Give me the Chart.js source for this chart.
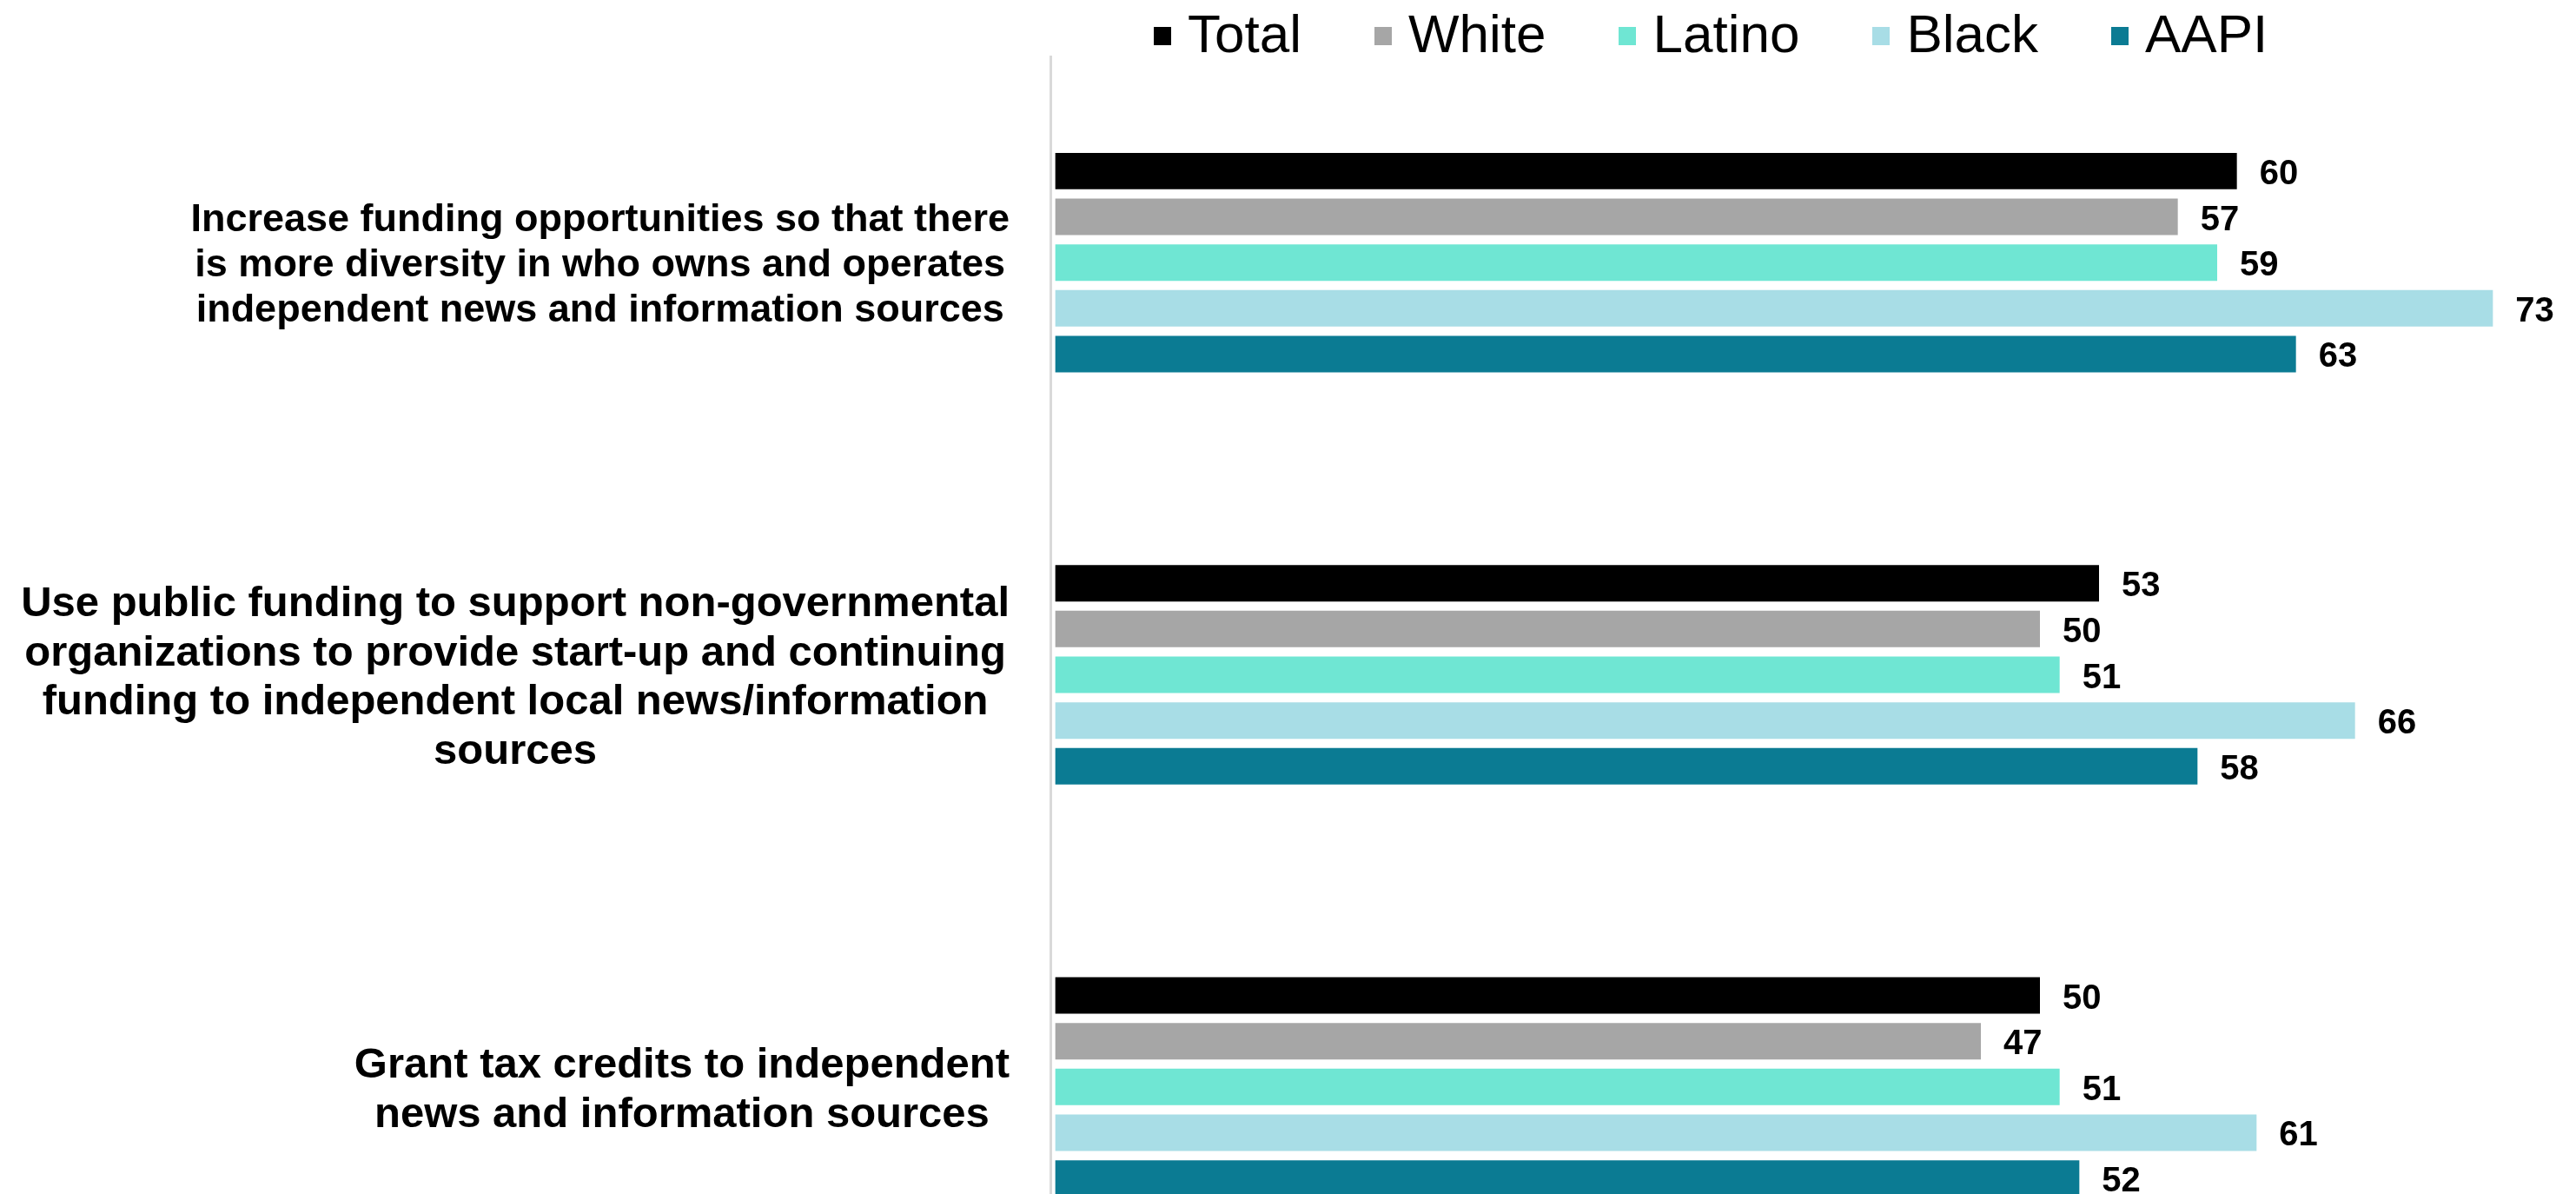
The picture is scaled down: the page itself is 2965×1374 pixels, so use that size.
<!DOCTYPE html>
<html>
<head>
<meta charset="utf-8">
<script src="https://cdn.jsdelivr.net/npm/chart.js@4.4.1/dist/chart.umd.min.js"></script>
<style>
  html, body { margin: 0; padding: 0; background: #fff; overflow: hidden; }
  #wrap { position: relative; width: 2965px; height: 1374px; overflow: hidden; }
  #chart { position: absolute; left: 0; top: 0; }
  #legend {
    position: absolute; left: 1328px; top: 8px;
    display: flex; gap: 84px;
    font: 62px/62px "Liberation Sans", Arial, sans-serif; color: #000;
    white-space: nowrap;
  }
  #legend .item { display: inline-block; }
  #legend .box { display: inline-block; width: 20px; height: 21px; margin-right: 19px; vertical-align: 8px; }
</style>
</head>
<body>
<div id="wrap">
  <canvas id="chart" width="2965" height="1488"></canvas>
  <div id="legend"></div>
</div>
<script>
// policy statements, one array of wrapped lines per row
const CATEGORIES = [
  ['Increase funding opportunities so that there', 'is more diversity in who owns and operates', 'independent news and information sources'],
  ['Use public funding to support non-governmental', 'organizations to provide start-up and continuing', 'funding to independent local news/information', 'sources'],
  ['Grant tax credits to independent', 'news and information sources'],
];

const SERIES = ['Total', 'White', 'Latino', 'Black', 'AAPI'];

// % support by group
const TOTAL  = [60, 53, 50];
const WHITE  = [57, 50, 47];
const LATINO = [59, 51, 51];
const BLACK  = [73, 66, 61];
const AAPI   = [63, 58, 52];

const COLORS = ['#000000', '#a6a6a6', '#6fe6d3', '#a8dde6', '#0b7b93'];
const FONT = '"Liberation Sans", Arial, sans-serif';
// the first statement is set a little smaller than the others
const LABEL_PX = [45, 49, 49];

// numbers at the end of each bar
const valueLabels = {
  id: 'valueLabels',
  afterDatasetsDraw(chart) {
    const ctx = chart.ctx;
    ctx.save();
    ctx.font = 'bold 40px ' + FONT;
    ctx.fillStyle = '#000';
    ctx.textAlign = 'left';
    ctx.textBaseline = 'alphabetic';
    chart.data.datasets.forEach((ds, i) => {
      chart.getDatasetMeta(i).data.forEach((bar, j) => {
        ctx.fillText(String(ds.data[j]), bar.x + 26, bar.y + 15);
      });
    });
    ctx.restore();
  },
};

// row labels: block right-aligned against the axis, lines centred inside it
const categoryLabels = {
  id: 'categoryLabels',
  afterDraw(chart) {
    const { ctx, chartArea, scales: { y } } = chart;
    ctx.save();
    ctx.fillStyle = '#000';
    ctx.textAlign = 'center';
    ctx.textBaseline = 'alphabetic';
    const right = chartArea.left - 47;
    chart.data.labels.forEach((lines, i) => {
      const px = LABEL_PX[i];
      const lh = px * 1.16;
      ctx.font = 'bold ' + px + 'px ' + FONT;
      const w = Math.max(...lines.map(l => ctx.measureText(l).width));
      const cx = right - w / 2;
      const cy = y.getPixelForValue(i);
      const first = cy - (lines.length - 1) * lh / 2 + px * 0.358;
      lines.forEach((l, k) => ctx.fillText(l, cx, first + k * lh));
    });
    ctx.restore();
  },
};

const datasets = [TOTAL, WHITE, LATINO, BLACK, AAPI].map((data, i) => ({
  label: SERIES[i],
  data,
  backgroundColor: COLORS[i],
  borderWidth: 0,
  categoryPercentage: 0.555,
  barPercentage: 0.797,
}));

const chart = new Chart(document.getElementById('chart'), {
  type: 'bar',
  data: { labels: CATEGORIES, datasets },
  options: {
    indexAxis: 'y',
    responsive: false,
    animation: false,
    devicePixelRatio: 1,
    layout: { padding: { top: 65, right: 5, bottom: 0, left: 0 } },
    plugins: { legend: { display: false }, tooltip: { enabled: false } },
    scales: {
      x: { display: false, min: -0.25, max: 77 },
      y: {
        afterFit: s => { s.width = 1209; },
        ticks: { display: false },
        grid: { display: true, drawOnChartArea: false, drawTicks: false },
        border: { display: true, color: '#d9d9d9', width: 3 },
      },
    },
  },
  plugins: [valueLabels, categoryLabels],
});

// legend row above the plot
const legend = document.getElementById('legend');
chart.data.datasets.forEach(ds => {
  const item = document.createElement('span');
  item.className = 'item';
  const box = document.createElement('span');
  box.className = 'box';
  box.style.background = ds.backgroundColor;
  item.appendChild(box);
  item.appendChild(document.createTextNode(ds.label));
  legend.appendChild(item);
});
</script>
</body>
</html>
